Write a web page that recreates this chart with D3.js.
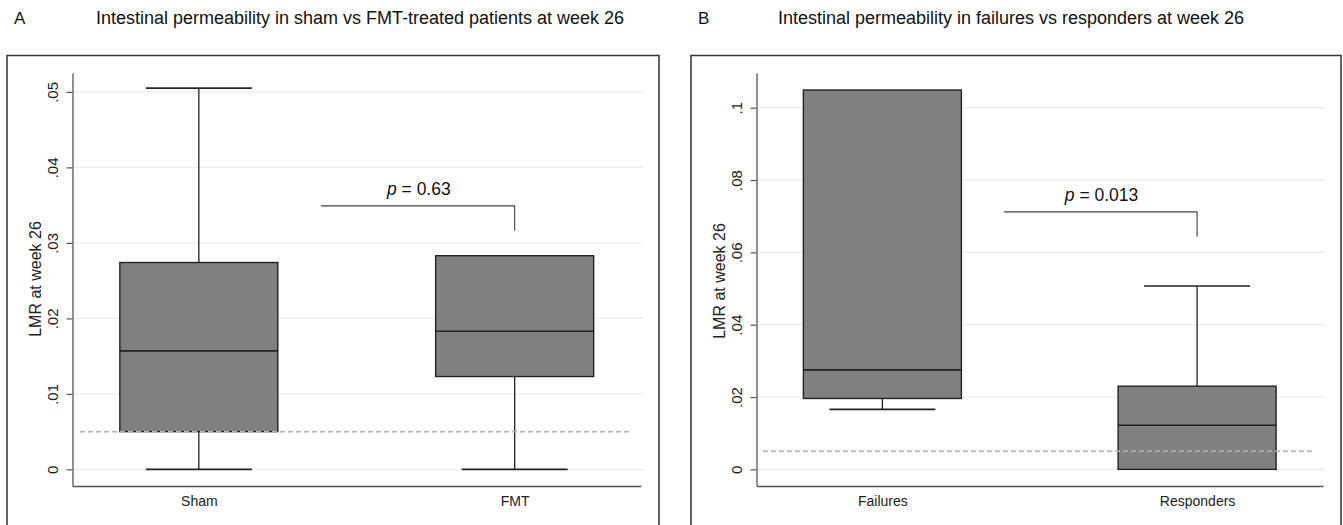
<!DOCTYPE html>
<html>
<head>
<meta charset="utf-8">
<script src="https://cdn.jsdelivr.net/npm/d3@7"></script>
<style>
html,body{margin:0;padding:0;background:#fff;}
svg{display:block;font-family:"Liberation Sans",Arial,sans-serif;}
</style>
</head>
<body>
<svg id="chart" width="1343" height="525"></svg>
<script>
// ---- data ----
const panelLetters = ["A", "B"];
const panelTitles = [
  "Intestinal permeability in sham vs FMT-treated patients at week 26",
  "Intestinal permeability in failures vs responders at week 26"
];
const categoriesA = ["Sham", "FMT"];
const categoriesB = ["Failures", "Responders"];
// [lower whisker, Q1, median, Q3, upper whisker]
const statsA = [
  [0, 0.005, 0.0157, 0.0274, 0.0505],
  [0, 0.0123, 0.0183, 0.0283, 0.0283]
];
const statsB = [
  [0.0166, 0.0196, 0.0275, 0.1049, 0.1049],
  [0, 0, 0.0122, 0.0230, 0.0507]
];
const ticksA = [0, 0.01, 0.02, 0.03, 0.04, 0.05];
const ticksB = [0, 0.02, 0.04, 0.06, 0.08, 0.1];
const domainA = [-0.0022, 0.0525];
const domainB = [-0.0046, 0.1096];
const referenceLine = 0.005;
const pLabels = ["0.63", "0.013"];
const bracketTopA = 0.0349;
const bracketBottomA = 0.0316;
const bracketTopB = 0.0712;
const bracketBottomB = 0.0644;
const yLabel = "LMR at week 26";

const svg = d3.select("#chart");
const fmt = v => v === 0 ? "0" : String(v).replace(/^0/, "");

function panel(o) {
  const g = svg.append("g");
  g.append("rect")
    .attr("x", o.frameX).attr("y", 55.5)
    .attr("width", o.frameW).attr("height", 480)
    .attr("fill", "none").attr("stroke", "#333").attr("stroke-width", 1.5);
  g.append("text").attr("x", o.frameX + 7).attr("y", 24)
    .attr("font-size", 17).attr("fill", "#111").text(o.letter);
  g.append("text").attr("x", o.titleX).attr("y", 24)
    .attr("text-anchor", "middle").attr("font-size", 18).attr("fill", "#111").text(o.title);

  const y = d3.scaleLinear().domain(o.domain).range([486, 73]);
  const x = d3.scalePoint().domain(o.cats).range([o.axisX, o.axisEnd]).padding(0.4);

  g.append("g").selectAll("line").data(o.ticks).join("line")
    .attr("x1", o.axisX + 1).attr("x2", o.gridEnd)
    .attr("y1", d => y(d)).attr("y2", d => y(d))
    .attr("stroke", "#ececec").attr("stroke-width", 1.2);

  const ax = g.append("g").attr("transform", `translate(${o.axisX},0)`)
    .call(d3.axisLeft(y).tickValues(o.ticks).tickFormat(fmt).tickSize(6).tickSizeOuter(0));
  ax.select(".domain").attr("stroke", "#555").attr("stroke-width", 1.3);
  ax.selectAll(".tick line").attr("stroke", "#555").attr("stroke-width", 1.2);
  ax.selectAll(".tick text")
    .attr("font-size", 15).attr("fill", "#222").attr("font-family", "Liberation Sans, Arial, sans-serif")
    .attr("x", 0).attr("dy", 0).attr("text-anchor", "middle")
    .attr("transform", "translate(-15,0) rotate(-90)");

  const xa = g.append("g").attr("transform", "translate(0,486)")
    .call(d3.axisBottom(x).tickSize(0).tickSizeOuter(0));
  xa.select(".domain").attr("stroke", "#555").attr("stroke-width", 1.6);
  xa.selectAll(".tick text").attr("font-size", 14).attr("fill", "#222")
    .attr("font-family", "Liberation Sans, Arial, sans-serif").attr("dy", "1.2em");

  g.append("text")
    .attr("transform", `translate(${o.axisX - 32},${o.yLabelY}) rotate(-90)`)
    .attr("text-anchor", "middle").attr("font-size", 16).attr("fill", "#222").text(yLabel);

  const bw = 158, cw = 106;
  const boxes = g.append("g").selectAll("g").data(o.stats).join("g");
  boxes.each(function(s, i) {
    const gg = d3.select(this);
    const cx = x(o.cats[i]);
    if (s[4] > s[3]) {
      gg.append("line").attr("x1", cx).attr("x2", cx).attr("y1", y(s[3])).attr("y2", y(s[4]))
        .attr("stroke", "#222").attr("stroke-width", 1.3);
      gg.append("line").attr("x1", cx - cw / 2).attr("x2", cx + cw / 2).attr("y1", y(s[4])).attr("y2", y(s[4]))
        .attr("stroke", "#222").attr("stroke-width", 1.6);
    }
    if (s[0] < s[1]) {
      gg.append("line").attr("x1", cx).attr("x2", cx).attr("y1", y(s[1])).attr("y2", y(s[0]))
        .attr("stroke", "#222").attr("stroke-width", 1.3);
      gg.append("line").attr("x1", cx - cw / 2).attr("x2", cx + cw / 2).attr("y1", y(s[0])).attr("y2", y(s[0]))
        .attr("stroke", "#222").attr("stroke-width", 1.6);
    }
    gg.append("rect").attr("x", cx - bw / 2).attr("width", bw)
      .attr("y", y(s[3])).attr("height", y(s[1]) - y(s[3]))
      .attr("fill", "#808080").attr("stroke", "#222").attr("stroke-width", 1.4);
    gg.append("line").attr("x1", cx - bw / 2).attr("x2", cx + bw / 2).attr("y1", y(s[2])).attr("y2", y(s[2]))
      .attr("stroke", "#222").attr("stroke-width", 1.6);
  });

  g.append("line").attr("x1", o.dashStart).attr("x2", o.dashEnd)
    .attr("y1", y(referenceLine)).attr("y2", y(referenceLine))
    .attr("stroke", "#b0b0b0").attr("stroke-width", 1.6).attr("stroke-dasharray", "5,3");

  const bx1 = o.bracketStart, bx2 = x(o.cats[1]);
  g.append("path")
    .attr("d", `M${bx1},${y(o.bTop)}H${bx2}V${y(o.bBottom)}`)
    .attr("fill", "none").attr("stroke", "#444").attr("stroke-width", 1.1);
  const t = g.append("text").attr("x", (bx1 + bx2) / 2 + 1).attr("y", y(o.bTop) - 11)
    .attr("text-anchor", "middle").attr("font-size", 17.5).attr("fill", "#111");
  t.append("tspan").attr("font-style", "italic").text("p");
  t.append("tspan").text(" = " + o.p);
}

panel({
  letter: panelLetters[0], title: panelTitles[0], cats: categoriesA, stats: statsA,
  ticks: ticksA, domain: domainA, p: pLabels[0], bTop: bracketTopA, bBottom: bracketBottomA,
  frameX: 7, frameW: 652, titleX: 360, axisX: 72.5, axisEnd: 641, gridEnd: 643,
  dashStart: 80, dashEnd: 630, bracketStart: 321, yLabelY: 279
});
panel({
  letter: panelLetters[1], title: panelTitles[1], cats: categoriesB, stats: statsB,
  ticks: ticksB, domain: domainB, p: pLabels[1], bTop: bracketTopB, bBottom: bracketBottomB,
  frameX: 691, frameW: 650, titleX: 1011, axisX: 756.5, axisEnd: 1323, gridEnd: 1325,
  dashStart: 763, dashEnd: 1312, bracketStart: 1004, yLabelY: 281
});
</script>
</body>
</html>
